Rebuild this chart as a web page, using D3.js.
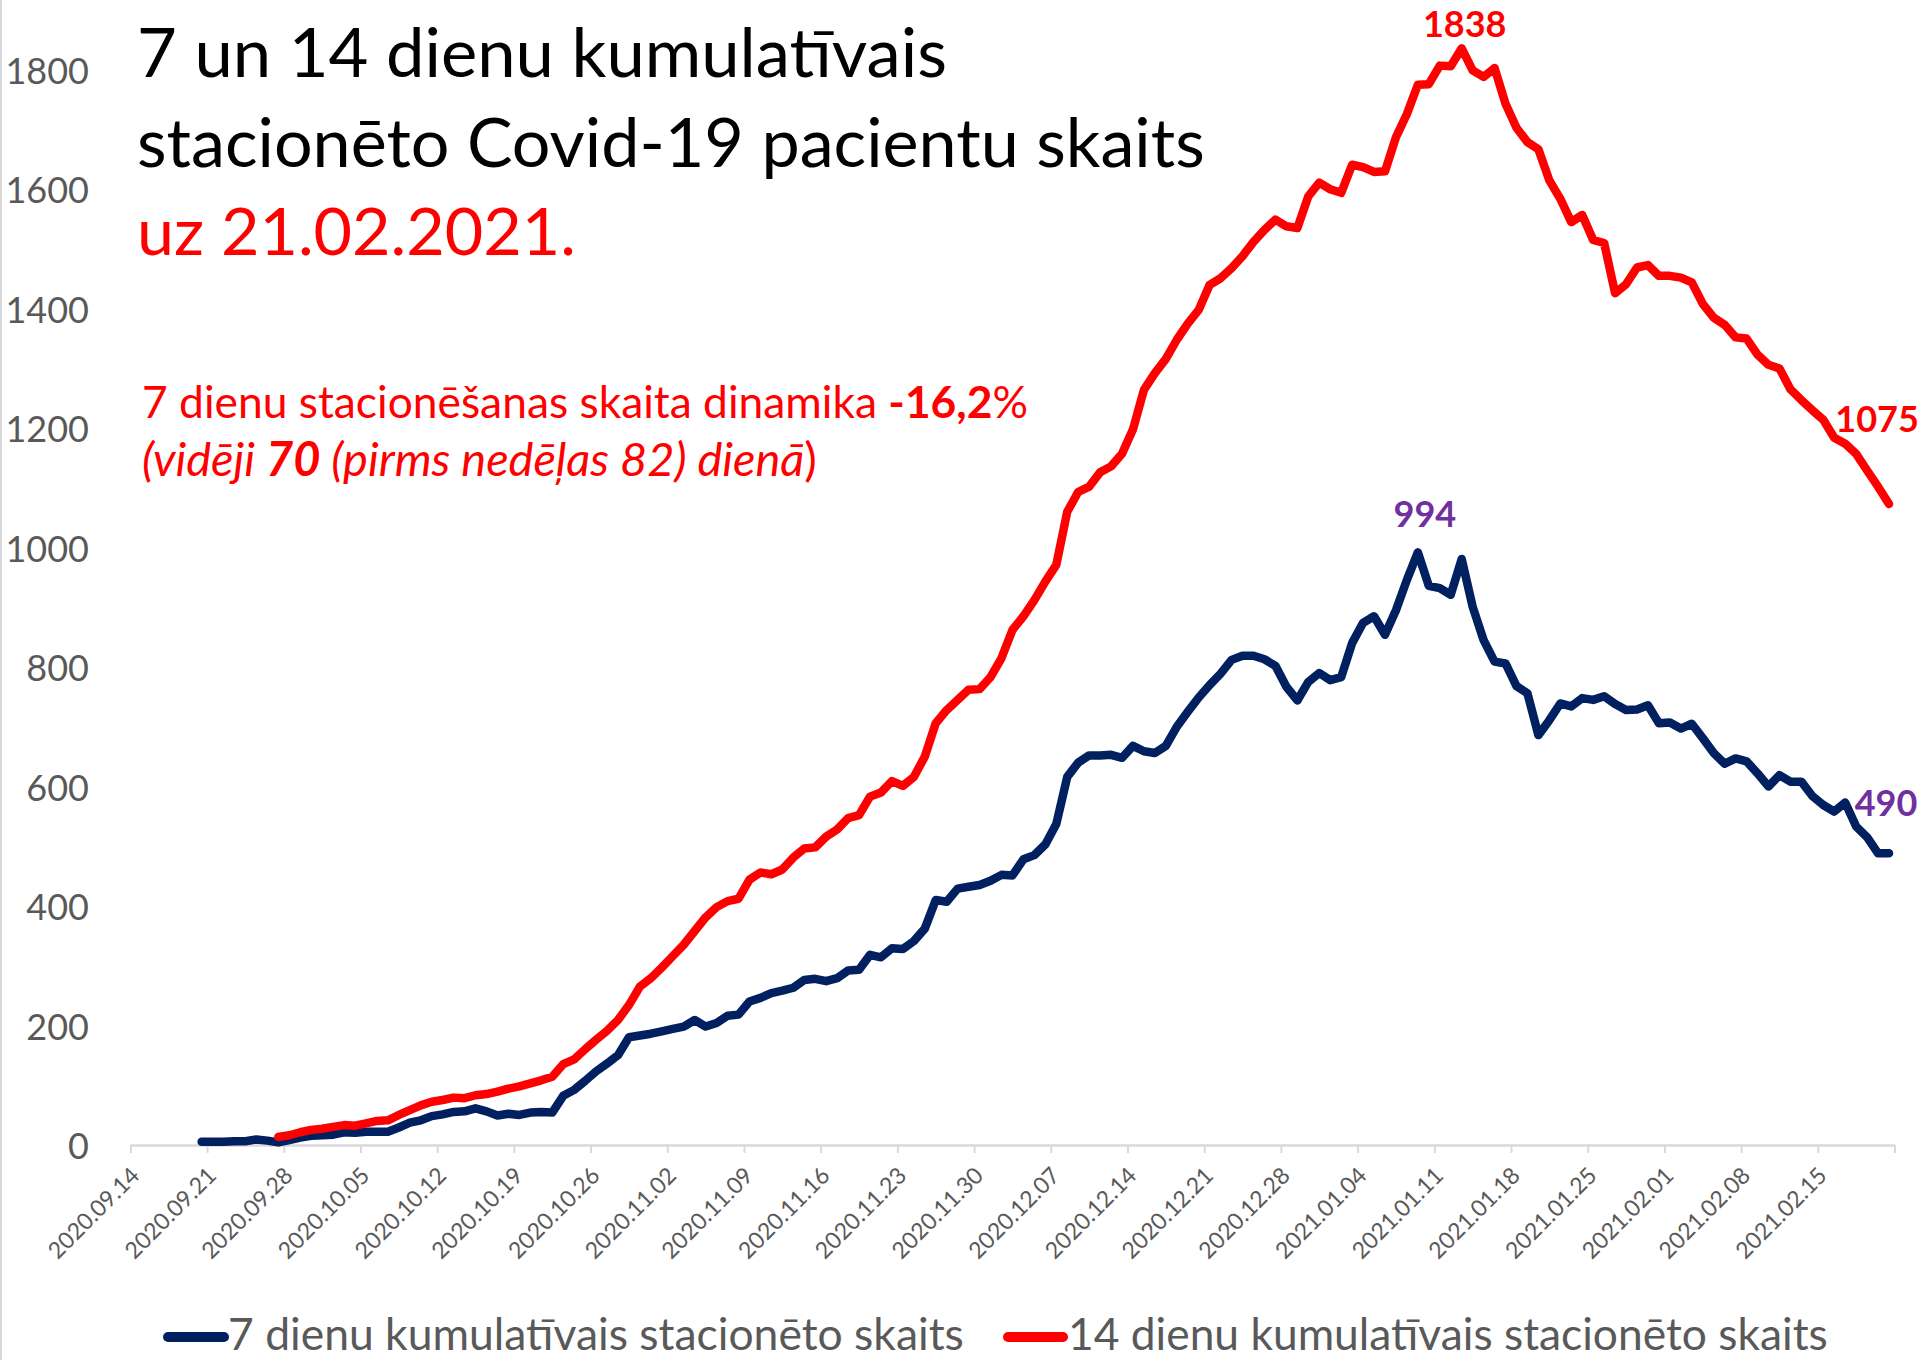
<!DOCTYPE html>
<html><head><meta charset="utf-8">
<script src="https://cdn.jsdelivr.net/npm/d3@7"></script>
<style>
html,body{margin:0;padding:0;background:#fff;}
svg{display:block;}
text{font-family:Lato,"Open Sans",sans-serif;}
</style></head><body>
<svg id="chart" width="1920" height="1360"></svg>
<script>
// ---------------- DATA ----------------
const navy7Start = "2020-09-20";   // first day of 7-day series
const navy7 = [
 7,7,7,8,8,11,9,6,10,14,
 17,18,19,23,22,24,24,24,31,39,
 43,50,53,57,58,63,58,51,54,52,
 56,57,56,84,94,109,125,138,152,182,
 185,188,192,196,200,211,200,206,218,220,
 242,248,256,260,265,278,280,276,281,294,
 295,320,316,331,330,343,364,412,409,431,
 434,437,444,454,453,480,487,505,539,618,
 642,654,654,655,650,670,661,658,670,702,
 727,751,772,791,814,821,821,815,804,769,
 746,777,792,780,785,842,876,887,856,897,
 948,994,938,934,923,983,903,847,811,808,
 770,758,688,713,741,736,750,747,753,740,
 730,731,738,708,709,699,707,683,658,640,
 649,644,624,602,621,610,610,586,571,560,
 575,535,517,490,490
];
const red14Start = "2020-09-27";   // first day of 14-day series
const red14 = [
 15,18,23,27,29,32,35,34,38,42,
 43,52,60,68,74,77,81,80,85,87,
 91,96,100,105,110,116,137,145,162,178,
 193,211,236,267,281,299,318,337,360,383,
 400,410,414,446,458,455,463,483,498,500,
 518,530,549,554,585,592,611,603,618,652,
 708,730,747,764,765,785,817,864,887,914,
 945,973,1062,1095,1104,1128,1138,1159,1200,1266,
 1294,1318,1350,1377,1400,1442,1453,1470,1490,1514,
 1534,1551,1540,1537,1590,1613,1602,1596,1643,1639,
 1631,1632,1689,1728,1777,1778,1809,1808,1838,1801,
 1790,1805,1745,1705,1681,1669,1617,1586,1547,1559,
 1517,1512,1428,1443,1471,1475,1457,1457,1454,1446,
 1410,1387,1375,1354,1352,1325,1308,1302,1267,1249,
 1232,1216,1186,1176,1159,1131,1104,1075
];
const xTickLabels = ["2020.09.14","2020.09.21","2020.09.28","2020.10.05","2020.10.12","2020.10.19",
 "2020.10.26","2020.11.02","2020.11.09","2020.11.16","2020.11.23","2020.11.30","2020.12.07",
 "2020.12.14","2020.12.21","2020.12.28","2021.01.04","2021.01.11","2021.01.18","2021.01.25",
 "2021.02.01","2021.02.08","2021.02.15"];
const xAxisEnd = "2021.02.22";
const yTicks = [0,200,400,600,800,1000,1200,1400,1600,1800];
const seriesNames = ["7 dienu kumulatīvais stacionēto skaits","14 dienu kumulatīvais stacionēto skaits"];
const titleLines = ["7 un 14 dienu kumulatīvais","stacionēto Covid-19 pacientu skaits","uz 21.02.2021."];
const noteLine1 = ["7 dienu stacionēšanas skaita dinamika ","-16,2","%"];
const noteLine2 = ["(vidēji ","70"," (pirms nedēļas 82) dienā",")"];

// ---------------- SETUP ----------------
const svg = d3.select("#chart");
const NAVY = "#002060", RED = "#FF0000", PURPLE = "#7030A0", GREY = "#595959", AXIS = "#D9D9D9";
const parseDot = d3.utcParse("%Y.%m.%d");
const parseIso = d3.utcParse("%Y-%m-%d");
const DAY = 864e5;

const x = d3.scaleUtc()
  .domain([parseDot(xTickLabels[0]), parseDot(xAxisEnd)])
  .range([130.4, 1894.5]);
const y = d3.scaleLinear().domain([0, 1800]).range([1146, 71]);

function series(startStr, vals){
  const s = parseIso(startStr).getTime();
  return vals.map((v,i)=>({date:new Date(s + i*DAY), value:v}));
}
const navyData = series(navy7Start, navy7);
const redData = series(red14Start, red14);
const px = d => x(new Date(d.date.getTime() + DAY/2)); // point centred in its day slot

// left frame border
svg.append("line").attr("x1",1).attr("x2",1).attr("y1",0).attr("y2",1360)
  .attr("stroke",AXIS).attr("stroke-width",2);

// Y axis labels
svg.append("g").selectAll("text").data(yTicks).join("text")
  .attr("x", 89).attr("y", d=>y(d)).attr("dy","0.36em")
  .attr("text-anchor","end").attr("font-size",36).attr("fill",GREY)
  .text(d=>d);

// X axis
const tickDates = xTickLabels.map(parseDot).concat([parseDot(xAxisEnd)]);
const xAxis = d3.axisBottom(x).tickValues(tickDates).tickSize(8).tickSizeOuter(0)
  .tickFormat((d,i)=> i < xTickLabels.length ? xTickLabels[i] : "");
const gx = svg.append("g").attr("transform","translate(0,1145)").call(xAxis);
gx.select(".domain").attr("stroke",AXIS).attr("stroke-width",2.5);
gx.selectAll(".tick line").attr("stroke",AXIS).attr("stroke-width",2);
gx.selectAll(".tick text")
  .attr("fill",GREY).attr("font-size",23).attr("font-family","Lato")
  .attr("text-anchor","end").attr("dy",null).attr("y",null)
  .attr("transform","translate(10,32) rotate(-45)");

// Lines
const line = d3.line().x(px).y(d=>y(d.value));
svg.append("path").datum(navyData).attr("d",line).attr("fill","none")
  .attr("stroke",NAVY).attr("stroke-width",8.5).attr("stroke-linejoin","round").attr("stroke-linecap","round");
svg.append("path").datum(redData).attr("d",line).attr("fill","none")
  .attr("stroke",RED).attr("stroke-width",8.5).attr("stroke-linejoin","round").attr("stroke-linecap","round");

// Data labels
const redPeak = redData[d3.maxIndex(redData,d=>d.value)];
const navyPeak = navyData[d3.maxIndex(navyData,d=>d.value)];
const redLast = redData[redData.length-1];
const navyLast = navyData[navyData.length-1];
const labels = [
  {d:redPeak, c:RED, dx:3, dy:-11},
  {d:navyPeak, c:PURPLE, dx:7, dy:-25},
  {d:redLast, c:RED, dx:-12, dy:-72},
  {d:navyLast, c:PURPLE, dx:-3, dy:-37}
];
svg.append("g").selectAll("text").data(labels).join("text")
  .attr("x", l=>px(l.d)+l.dx).attr("y", l=>y(l.d.value)+l.dy)
  .attr("text-anchor","middle").attr("font-size",36).attr("font-weight","bold")
  .attr("fill", l=>l.c).text(l=>l.d.value);

// fit helper
function fit(sel, target){
  const w = sel.node().getComputedTextLength();
  const fs = parseFloat(sel.attr("font-size"));
  sel.attr("font-size", fs*target/w);
}

// Title
const tCols = ["#000","#000",RED];
const tBase = [77,166.5,254.7];
const tW = [810,1068,439];
titleLines.forEach((t,i)=>{
  const s = svg.append("text").attr("x",137).attr("y",tBase[i])
    .attr("font-size",66).attr("fill",tCols[i]).text(t);
  fit(s,tW[i]);
});

// Note lines
const n1 = svg.append("text").attr("x",142).attr("y",418).attr("font-size",42).attr("fill",RED);
n1.append("tspan").text(noteLine1[0]);
n1.append("tspan").attr("font-weight","bold").text(noteLine1[1]);
n1.append("tspan").text(noteLine1[2]);
fit(n1,886);
const n2 = svg.append("text").attr("x",142).attr("y",476).attr("font-size",42).attr("fill",RED);
n2.append("tspan").attr("font-style","italic").text(noteLine2[0]);
n2.append("tspan").attr("font-style","italic").attr("font-weight","bold").text(noteLine2[1]);
n2.append("tspan").attr("font-style","italic").text(noteLine2[2]);
n2.append("tspan").text(noteLine2[3]);
fit(n2,675);

// Legend
const leg = [
  {name:seriesNames[0], c:NAVY, x1:168, x2:224, tx:228, w:736},
  {name:seriesNames[1], c:RED, x1:1008, x2:1063, tx:1068, w:760}
];
leg.forEach(l=>{
  svg.append("line").attr("x1",l.x1).attr("x2",l.x2).attr("y1",1337).attr("y2",1337)
    .attr("stroke",l.c).attr("stroke-width",10).attr("stroke-linecap","round");
  const t = svg.append("text").attr("x",l.tx).attr("y",1350).attr("font-size",46)
    .attr("fill",GREY).text(l.name);
  fit(t,l.w);
});
</script>
</body></html>
